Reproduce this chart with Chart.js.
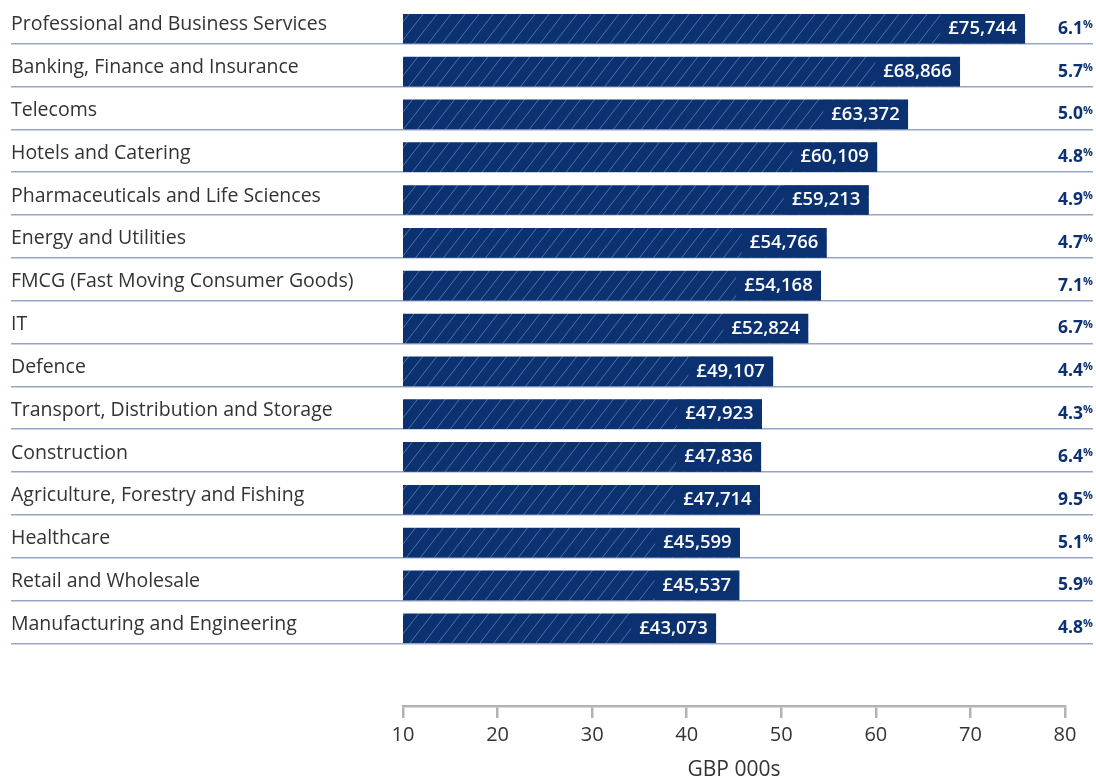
<!DOCTYPE html>
<html>
<head>
<meta charset="utf-8">
<script src="https://cdn.jsdelivr.net/npm/chart.js@4.4.1/dist/chart.umd.min.js"></script>
<style>
  body { margin: 0; background: #fff; }
  canvas { display: block; }
</style>
</head>
<body>
<canvas id="salaryChart" width="1096" height="783"></canvas>
<script>
// sectors, top to bottom
var sectors = [
    'Professional and Business Services',
    'Banking, Finance and Insurance',
    'Telecoms',
    'Hotels and Catering',
    'Pharmaceuticals and Life Sciences',
    'Energy and Utilities',
    'FMCG (Fast Moving Consumer Goods)',
    'IT',
    'Defence',
    'Transport, Distribution and Storage',
    'Construction',
    'Agriculture, Forestry and Fishing',
    'Healthcare',
    'Retail and Wholesale',
    'Manufacturing and Engineering'
];
// average salary, GBP 000s
var salaries = [75.744, 68.866, 63.372, 60.109, 59.213, 54.766, 54.168, 52.824,
                49.107, 47.923, 47.836, 47.714, 45.599, 45.537, 43.073];
// change, percent
var changes = [6.1, 5.7, 5.0, 4.8, 4.9, 4.7, 7.1, 6.7, 4.4, 4.3, 6.4, 9.5, 5.1, 5.9, 4.8];
var xTicks = [10, 20, 30, 40, 50, 60, 70, 80];

var navy = '#0b3170';
var rowLine = '#97a5c9';
var axisGrey = '#b3b3b3';
var textColor = '#333333';

function makeHatch() {
    var c = document.createElement('canvas');
    c.width = 14; c.height = 18;
    var g = c.getContext('2d');
    g.fillStyle = navy;
    g.fillRect(0, 0, 14, 18);
    g.strokeStyle = 'rgba(140,165,210,0.55)';
    g.lineWidth = 1;
    g.beginPath();
    for (var k = -1; k <= 1; k++) {
        g.moveTo(k * 14 - 14, 36);
        g.lineTo(k * 14 + 28, -18);
    }
    g.stroke();
    return g.createPattern(c, 'repeat');
}

// bars sit on a linear index axis so the axis line can sit below the last row
var rowMin = -0.671, rowMax = 15.816, sepOffset = 0.351;

function rowTicks(scale) {
    scale.ticks = sectors.map(function (s, i) { return { value: i + sepOffset }; });
}
function noPad(scale) {
    scale.paddingTop = 0; scale.paddingBottom = 0;
    scale.paddingLeft = 0; scale.paddingRight = 0;
}

var points = salaries.map(function (v, i) { return { x: v, y: i }; });

var valueLabels = {
    id: 'valueLabels',
    afterDatasetsDraw: function (chart) {
        var ctx = chart.ctx;
        var meta = chart.getDatasetMeta(0);
        ctx.save();
        meta.data.forEach(function (bar, i) {
            var txt = '£' + Math.round(salaries[i] * 1000).toLocaleString('en-GB');
            ctx.font = '600 18.5px "Open Sans"';
            var w = ctx.measureText(txt).width;
            var pad = 8;
            ctx.fillStyle = navy;
            ctx.fillRect(bar.x - w - pad * 2, bar.y - bar.height / 2, w + pad * 2, bar.height);
            ctx.fillStyle = '#ffffff';
            ctx.textAlign = 'right';
            ctx.textBaseline = 'middle';
            ctx.fillText(txt, bar.x - pad, bar.y);

            // percent change on the right, small raised % sign
            var right = chart.width - 3;
            ctx.fillStyle = navy;
            ctx.font = 'bold 11px "Open Sans"';
            var pw = ctx.measureText('%').width;
            ctx.textAlign = 'right';
            ctx.fillText('%', right, bar.y - 4);
            ctx.font = 'bold 17.5px "Open Sans"';
            ctx.fillText(changes[i].toFixed(1), right - pw, bar.y);
        });
        ctx.restore();
    }
};

var ctx = document.getElementById('salaryChart');

var chart = new Chart(ctx, {
    type: 'bar',
    data: {
        datasets: [{
            data: points,
            backgroundColor: makeHatch(),
            borderWidth: 0,
            barThickness: 29,
            yAxisID: 'y'
        }]
    },
    options: {
        indexAxis: 'y',
        responsive: false,
        animation: false,
        devicePixelRatio: 1,
        layout: { padding: { left: 11, right: 3, top: 0, bottom: 0 } },
        plugins: {
            legend: { display: false },
            tooltip: { enabled: false }
        },
        scales: {
            x: {
                type: 'linear',
                min: 10,
                max: 80,
                afterBuildTicks: function (scale) {
                    scale.ticks = xTicks.map(function (v) { return { value: v }; });
                },
                afterFit: function (scale) { scale.height = 77; noPad(scale); },
                border: { display: true, color: axisGrey, width: 2.5 },
                grid: { drawOnChartArea: false, drawTicks: true, tickLength: 12, color: axisGrey, lineWidth: 2.5 },
                ticks: {
                    color: textColor,
                    padding: 5,
                    font: { family: '"Open Sans"', size: 20 }
                },
                title: {
                    display: true,
                    text: 'GBP 000s',
                    color: textColor,
                    padding: 0,
                    font: { family: '"Open Sans"', size: 21 }
                }
            },
            y: {
                type: 'linear',
                position: 'left',
                reverse: true,
                offset: false,
                min: rowMin,
                max: rowMax,
                afterBuildTicks: rowTicks,
                afterFit: function (scale) { scale.width = 392; noPad(scale); },
                border: { display: false },
                grid: { offset: false, color: rowLine, lineWidth: 1.5, drawTicks: true, tickLength: 392 },
                ticks: {
                    autoSkip: false,
                    crossAlign: 'far',
                    labelOffset: -19,
                    color: textColor,
                    font: { family: '"Open Sans"', size: 19.5 },
                    callback: function (v, i) { return sectors[i]; }
                }
            },
            y2: {
                type: 'linear',
                position: 'right',
                reverse: true,
                offset: false,
                min: rowMin,
                max: rowMax,
                afterBuildTicks: rowTicks,
                afterFit: function (scale) { scale.width = 28; noPad(scale); },
                border: { display: false },
                grid: { offset: false, drawOnChartArea: false, color: rowLine, lineWidth: 1.5, drawTicks: true, tickLength: 28 },
                ticks: {
                    autoSkip: false,
                    callback: function () { return ''; }
                }
            }
        }
    },
    plugins: [valueLabels]
});
</script>
</body>
</html>
